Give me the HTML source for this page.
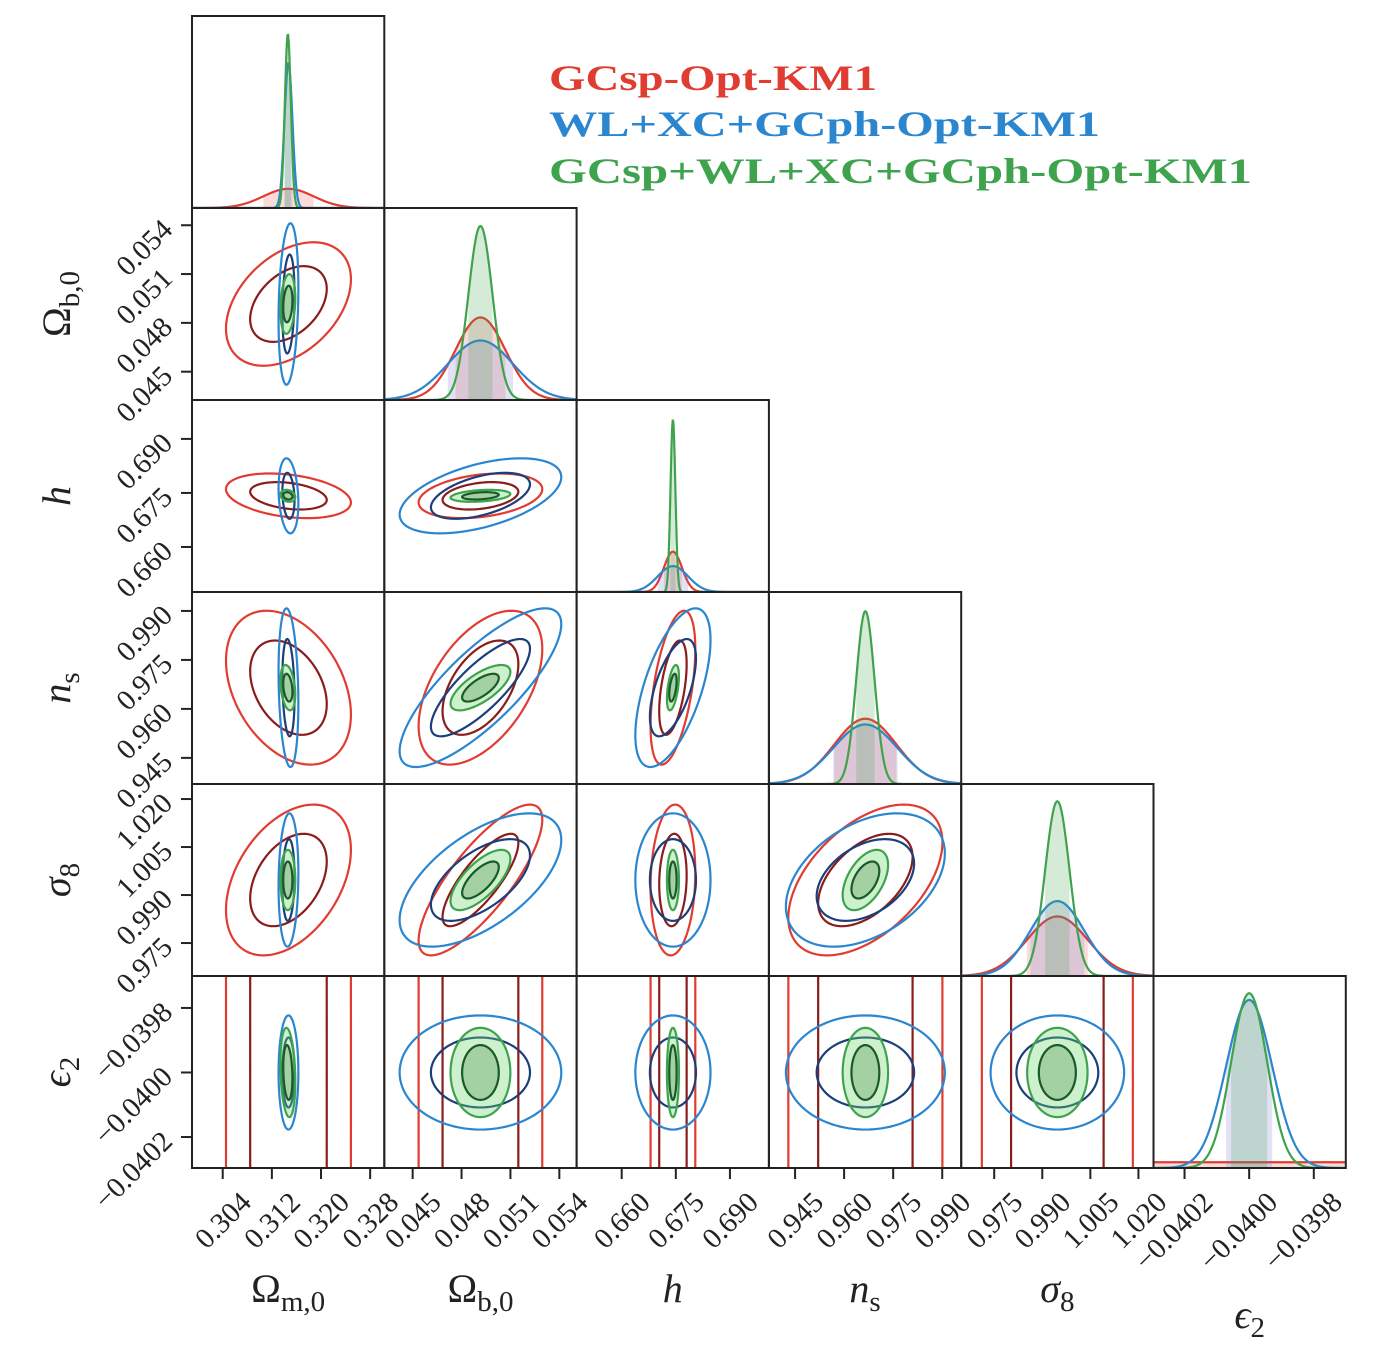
<!DOCTYPE html>
<html><head><meta charset="utf-8"><style>
html,body{margin:0;padding:0;background:#fff;overflow:hidden;width:1392px;height:1350px;}
svg{display:block;}
svg text{font-family:"Liberation Serif","DejaVu Serif",serif;}
</style></head><body>
<svg id="chart" width="1392" height="1350" viewBox="0 0 1392 1350" xmlns="http://www.w3.org/2000/svg">
<g id="legend">
<text x="549" y="90" font-size="36" font-weight="bold" fill="#e03c31" textLength="328" lengthAdjust="spacingAndGlyphs">GCsp-Opt-KM1</text>
<text x="549" y="136" font-size="36" font-weight="bold" fill="#2b86d0" textLength="551" lengthAdjust="spacingAndGlyphs">WL+XC+GCph-Opt-KM1</text>
<text x="549" y="183" font-size="36" font-weight="bold" fill="#3fa34d" textLength="703" lengthAdjust="spacingAndGlyphs">GCsp+WL+XC+GCph-Opt-KM1</text>
</g>
</svg>
<script>
// ---- data ----
const paramNames = ['omega-m','omega-b','h','n-s','sigma-8','epsilon-2'];
const axisMin = [0.2990, 0.04326, 0.6475, 0.9370, 0.9647, -0.040296];
const axisMax = [0.3303, 0.05506, 0.7008, 0.9958, 1.0247, -0.039701];
const ticks0 = [0.304, 0.312, 0.320, 0.328];
const ticks1 = [0.045, 0.048, 0.051, 0.054];
const ticks2 = [0.660, 0.675, 0.690];
const ticks3 = [0.945, 0.960, 0.975, 0.990];
const ticks4 = [0.975, 0.990, 1.005, 1.020];
const ticks5 = [-0.0402, -0.0400, -0.0398];
const tickLabels0 = ['0.304','0.312','0.320','0.328'];
const tickLabels1 = ['0.045','0.048','0.051','0.054'];
const tickLabels2 = ['0.660','0.675','0.690'];
const tickLabels3 = ['0.945','0.960','0.975','0.990'];
const tickLabels4 = ['0.975','0.990','1.005','1.020'];
const tickLabels5 = ['\u22120.0402','\u22120.0400','\u22120.0398'];
const meanRed   = [0.3147, 0.04916, 0.6742, 0.9665, 0.9947, -0.0400];
const meanBlue  = [0.3147, 0.04916, 0.6742, 0.9665, 0.9947, -0.0400];
const meanGreen = [0.3146, 0.04916, 0.6742, 0.9665, 0.9947, -0.0400];
const sigmaRed   = [0.0041, 0.00153, 0.0025, 0.0095, 0.0095, 0.01];
const sigmaBlue  = [0.00065, 0.0020, 0.0042, 0.0098, 0.0084, 0.0000713];
const sigmaGreen = [0.00049, 0.00074, 0.00067, 0.0028, 0.0038, 0.0000558];
const peakRed   = [0.10, 0.43, 0.21, 0.34, 0.31, 0.03];
const peakBlue  = [0.755, 0.31, 0.135, 0.31, 0.39, 0.875];
const peakGreen = [0.906, 0.906, 0.90, 0.90, 0.91, 0.91];
// correlations for pairs (0,1),(0,2),(0,3),(0,4),(0,5),(1,2),(1,3),(1,4),(1,5),(2,3),(2,4),(2,5),(3,4),(3,5),(4,5)
const corrRed   = [0.4, -0.3, -0.35, 0.4, 0, 0.3, 0.5, 0.8, 0, 0.5, 0.1, 0, 0.5, 0, 0];
const corrBlue  = [0.2, -0.2, -0.2, 0.1, 0, 0.5, 0.8, 0.6, 0, 0.6, 0, 0, 0.4, 0, 0];
const corrGreen = [0.2, -0.2, -0.3, 0, -0.2, 0.3, 0.7, 0.7, 0, 0.5, 0, 0, 0.5, 0, 0];

const allTicks=[ticks0,ticks1,ticks2,ticks3,ticks4,ticks5];
const allTickLabels=[tickLabels0,tickLabels1,tickLabels2,tickLabels3,tickLabels4,tickLabels5];
const probes=[
 {name:'gcsp',mean:meanRed,sigma:sigmaRed,peak:peakRed,corr:corrRed,outer:'#e03c31',inner:'#8b1c1c',fill1:'rgba(224,60,49,0.18)',filled:false},
 {name:'wl-xc-gcph',mean:meanBlue,sigma:sigmaBlue,peak:peakBlue,corr:corrBlue,outer:'#2b86d0',inner:'#1b3f7a',fill1:'rgba(110,110,200,0.2)',filled:false},
 {name:'combined',mean:meanGreen,sigma:sigmaGreen,peak:peakGreen,corr:corrGreen,outer:'#3fa34d',inner:'#1a5a28',fill1:'rgba(63,163,77,0.22)',filled:true}
];
const N=6, X0=192, Y0=16, CW=192.3, CH=192;
const NS='http://www.w3.org/2000/svg';
const svg=document.getElementById('chart');
function colX(i){return X0+i*CW;}
function rowY(j){return Y0+j*CH;}
function xScale(i,v){return colX(i)+(v-axisMin[i])/(axisMax[i]-axisMin[i])*CW;}
function yScale(j,v){return rowY(j)+CH-(v-axisMin[j])/(axisMax[j]-axisMin[j])*CH;}
function pxPerX(i){return CW/(axisMax[i]-axisMin[i]);}
function pxPerY(j){return CH/(axisMax[j]-axisMin[j]);}
function pairIndex(i,j){let k=0;for(let a=0;a<N;a++)for(let b=a+1;b<N;b++){if(a===i&&b===j)return k;k++;}return -1;}
function mk(tag,attrs){const e=document.createElementNS(NS,tag);for(const k in attrs)e.setAttribute(k,attrs[k]);return e;}

const defs=mk('defs',{});svg.appendChild(defs);
for(let j=0;j<N;j++)for(let i=0;i<=j;i++){
  const cp=mk('clipPath',{id:'c'+i+'_'+j});
  cp.appendChild(mk('rect',{x:colX(i),y:rowY(j),width:CW,height:CH}));
  defs.appendChild(cp);
}
function ellipsePath(p,i,j,k){
  const cx=xScale(i,p.mean[i]), cy=yScale(j,p.mean[j]);
  const sx=p.sigma[i]*pxPerX(i), sy=p.sigma[j]*pxPerY(j);
  const r=p.corr[pairIndex(i,j)];
  let d='';
  for(let t=0;t<=120;t++){
    const a=t/120*2*Math.PI;
    const x=cx+k*sx*Math.cos(a);
    const y=cy-k*sy*(r*Math.cos(a)+Math.sqrt(1-r*r)*Math.sin(a));
    d+=(t?'L':'M')+x.toFixed(2)+','+y.toFixed(2);
  }
  return d+'Z';
}
// panels
for(let j=0;j<N;j++)for(let i=0;i<=j;i++){
  const g=mk('g',{'clip-path':'url(#c'+i+'_'+j+')'});
  
  
  svg.appendChild(g);
  probes.forEach(p=>{
    if(i===j){
      const base=rowY(j)+CH, m=p.mean[i], s=p.sigma[i];
      let d='', df='';
      for(let t=0;t<=300;t++){
        const px=colX(i)+t/300*CW;
        const v=axisMin[i]+(px-colX(i))/CW*(axisMax[i]-axisMin[i]);
        const z=(v-m)/s;
        const py=base-p.peak[i]*CH*Math.exp(-0.5*z*z);
        d+=(t?'L':'M')+px.toFixed(2)+','+py.toFixed(2);
      }
      const a=xScale(i,m-s), b=xScale(i,m+s);
      df='M'+a+','+base;
      for(let t=0;t<=60;t++){
        const v=(m-s)+t/60*2*s; const z=(v-m)/s;
        df+='L'+xScale(i,v).toFixed(2)+','+(base-p.peak[i]*CH*Math.exp(-0.5*z*z)).toFixed(2);
      }
      df+='L'+b+','+base+'Z';
      const f=mk('path',{d:df,fill:p.fill1,stroke:'none'});
      
      
      g.appendChild(f);
      const c=mk('path',{d:d,fill:'none',stroke:p.outer,'stroke-width':2.2});
      
      
      g.appendChild(c);
    } else {
      const o=mk('path',{d:ellipsePath(p,i,j,2.48),fill:p.filled?'rgba(110,215,110,0.35)':'none',stroke:p.outer,'stroke-width':2.2});
      
      
      g.appendChild(o);
      const n=mk('path',{d:ellipsePath(p,i,j,1.52),fill:p.filled?'rgba(90,150,90,0.35)':'none',stroke:p.inner,'stroke-width':2.2});
      
      
      g.appendChild(n);
    }
  });
  const fr=mk('rect',{x:colX(i),y:rowY(j),width:CW,height:CH,fill:'none',stroke:'#222','stroke-width':2});
  
  
  svg.appendChild(fr);
}
// x ticks (bottom row)
const bottom=rowY(N-1)+CH;
for(let i=0;i<N;i++){
  allTicks[i].forEach((t,k)=>{
    const x=xScale(i,t);
    const tk=mk('line',{x1:x,y1:bottom,x2:x,y2:bottom+11,stroke:'#222','stroke-width':2});
    
    
    svg.appendChild(tk);
    const lx=x+30, ly=bottom+36;
    const tx=mk('text',{x:lx,y:ly,'font-size':29,'text-anchor':'end',fill:'#222',transform:'rotate(-45 '+lx+' '+ly+')'});
    tx.textContent=allTickLabels[i][k];
    
    
    svg.appendChild(tx);
  });
}
// y ticks (left column, rows 1..5)
for(let j=1;j<N;j++){
  allTicks[j].forEach((t,k)=>{
    const y=yScale(j,t);
    const tk=mk('line',{x1:X0-11,y1:y,x2:X0,y2:y,stroke:'#222','stroke-width':2});
    
    
    svg.appendChild(tk);
    const lx=X0-18, ly=y+6;
    const tx=mk('text',{x:lx,y:ly,'font-size':29,'text-anchor':'end',fill:'#222',transform:'rotate(-45 '+lx+' '+ly+')'});
    tx.textContent=allTickLabels[j][k];
    
    
    svg.appendChild(tx);
  });
}
// axis labels
const labelMain=['\u03A9','\u03A9','h','n','\u03C3','\u03F5'];
const labelSub=['m,0','b,0','','s','8','2'];
const labelItalic=[false,false,true,true,true,true];
function axisLabel(k,x,y,rot,name){
  const t=mk('text',{x:x,y:y,'font-size':40,'text-anchor':'middle',fill:'#222'});
  if(rot) t.setAttribute('transform','rotate(-90 '+x+' '+y+')');
  const a=mk('tspan',{});a.textContent=labelMain[k];
  if(labelItalic[k])a.setAttribute('font-style','italic');
  t.appendChild(a);
  if(labelSub[k]){const b=mk('tspan',{dy:9,'font-size':29});b.textContent=labelSub[k];t.appendChild(b);}
  
  
  svg.appendChild(t);
}
for(let i=0;i<N;i++){
  const x=colX(i)+CW/2;
  const y=(i===N-1)?1328:1302;
  axisLabel(i,x,y,false,'x-axis-title-'+paramNames[i]);
}
for(let j=1;j<N;j++){
  axisLabel(j,70,rowY(j)+CH/2,true,'y-axis-title-'+paramNames[j]);
}
svg.appendChild(document.getElementById('legend'));
</script>
</body></html>
